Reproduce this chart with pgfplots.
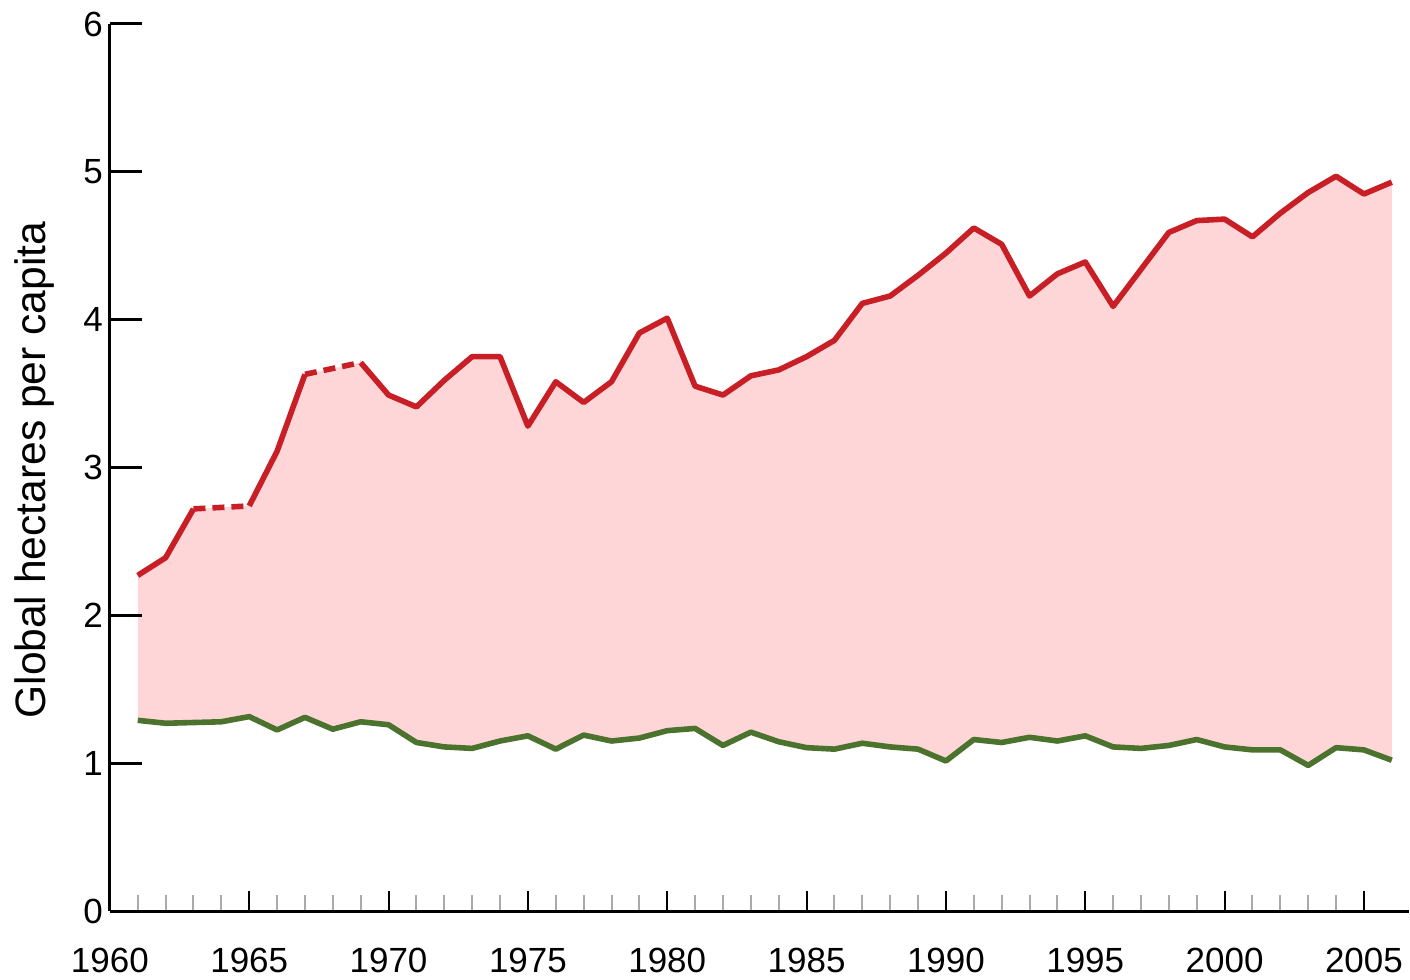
\documentclass[border=0pt]{standalone}
\usepackage{pgfplots}
\pgfplotsset{compat=1.18}
\usepgfplotslibrary{fillbetween}
\usepackage{fontspec}
\setmainfont{Liberation Sans}
\definecolor{fillpink}{RGB}{255,214,216}
\definecolor{linered}{RGB}{200,30,38}
\definecolor{linegreen}{RGB}{76,115,45}
\definecolor{minorgray}{RGB}{170,170,170}

\begin{document}
\begin{tikzpicture}
\begin{axis}[
  name=ax,
  scale only axis, width=650pt, height=444pt,
  xmin=1960, xmax=2006.6, ymin=0, ymax=6,
  axis x line=bottom, axis y line=left,
  axis line style={-, line width=1.5pt, black},
  xtick={1960,1965,...,2005},
  minor x tick num=4,
  tick align=inside,
  major tick length=10pt, minor tick length=8pt,
  xtick style={black, line width=1pt},
  minor x tick style={minorgray, line width=1pt},
  ytick=\empty,
  xticklabel style={font=\fontsize{17.5}{17.5}\selectfont, yshift=-15pt},
  /pgf/number format/assume math mode=true,
  /pgf/number format/1000 sep={},
  clip=false,
]
\addplot[draw=none, name path=R] table {
1961 2.27
1962 2.39
1963 2.72
1965 2.74
1966 3.11
1967 3.63
1969 3.71
1970 3.49
1971 3.41
1972 3.59
1973 3.75
1974 3.75
1975 3.28
1976 3.58
1977 3.44
1978 3.58
1979 3.91
1980 4.01
1981 3.55
1982 3.49
1983 3.62
1984 3.66
1985 3.75
1986 3.86
1987 4.11
1988 4.16
1989 4.30
1990 4.45
1991 4.62
1992 4.51
1993 4.16
1994 4.31
1995 4.39
1996 4.09
1997 4.34
1998 4.59
1999 4.67
2000 4.68
2001 4.56
2002 4.72
2003 4.86
2004 4.97
2005 4.85
2006 4.93
};
\addplot[draw=none, name path=G] table {
1961 1.29
1962 1.27
1963 1.275
1964 1.28
1965 1.315
1966 1.225
1967 1.31
1968 1.23
1969 1.28
1970 1.26
1971 1.14
1972 1.11
1973 1.10
1974 1.15
1975 1.185
1976 1.095
1977 1.19
1978 1.15
1979 1.17
1980 1.22
1981 1.235
1982 1.12
1983 1.21
1984 1.145
1985 1.105
1986 1.095
1987 1.135
1988 1.11
1989 1.095
1990 1.015
1991 1.16
1992 1.14
1993 1.175
1994 1.15
1995 1.185
1996 1.11
1997 1.10
1998 1.12
1999 1.16
2000 1.11
2001 1.09
2002 1.09
2003 0.985
2004 1.105
2005 1.09
2006 1.02
};
\addplot[fillpink, draw=none] fill between[of=R and G];
% green biocapacity line
\addplot[linegreen, line width=2.8pt, line join=round, mark=none] table {
1961 1.29
1962 1.27
1963 1.275
1964 1.28
1965 1.315
1966 1.225
1967 1.31
1968 1.23
1969 1.28
1970 1.26
1971 1.14
1972 1.11
1973 1.10
1974 1.15
1975 1.185
1976 1.095
1977 1.19
1978 1.15
1979 1.17
1980 1.22
1981 1.235
1982 1.12
1983 1.21
1984 1.145
1985 1.105
1986 1.095
1987 1.135
1988 1.11
1989 1.095
1990 1.015
1991 1.16
1992 1.14
1993 1.175
1994 1.15
1995 1.185
1996 1.11
1997 1.10
1998 1.12
1999 1.16
2000 1.11
2001 1.09
2002 1.09
2003 0.985
2004 1.105
2005 1.09
2006 1.02
};
% red footprint line, solid parts
\addplot[linered, line width=2.8pt, line join=round, mark=none, unbounded coords=jump] table {
1961 2.27
1962 2.39
1963 2.72
1964 nan
1965 2.74
1966 3.11
1967 3.63
1968 nan
1969 3.71
1970 3.49
1971 3.41
1972 3.59
1973 3.75
1974 3.75
1975 3.28
1976 3.58
1977 3.44
1978 3.58
1979 3.91
1980 4.01
1981 3.55
1982 3.49
1983 3.62
1984 3.66
1985 3.75
1986 3.86
1987 4.11
1988 4.16
1989 4.30
1990 4.45
1991 4.62
1992 4.51
1993 4.16
1994 4.31
1995 4.39
1996 4.09
1997 4.34
1998 4.59
1999 4.67
2000 4.68
2001 4.56
2002 4.72
2003 4.86
2004 4.97
2005 4.85
2006 4.93
};
% dashed gaps
\addplot[linered, line width=2.8pt, dash pattern=on 6pt off 3.5pt, mark=none] coordinates {(1963,2.72) (1965,2.74)};
\addplot[linered, line width=2.8pt, dash pattern=on 6pt off 3.5pt, mark=none] coordinates {(1967,3.63) (1969,3.71)};
\end{axis}
% y axis ticks and labels
\begin{axis}[
  scale only axis, width=650pt, height=444pt,
  xmin=1960, xmax=2006.6, ymin=0, ymax=6,
  axis x line=none, axis y line=left,
  axis line style={-, line width=1.5pt, black},
  ytick={0,1,...,6},
  tick align=inside,
  major tick length=16pt,
  ytick style={black, line width=1.5pt},
  yticklabel style={font=\fontsize{17.5}{17.5}\selectfont},
  /pgf/number format/assume math mode=true,
  ylabel={Global hectares per capita},
  ylabel style={font=\fontsize{21.3}{21.3}\selectfont, at={(axis description cs:-0.058,0.497)}, anchor=center},
]
\addplot[draw=none] coordinates {(1961,1.29)};
\end{axis}
\path (-55pt,-33.5pt) rectangle (650pt,456pt);
\end{tikzpicture}
\end{document}
